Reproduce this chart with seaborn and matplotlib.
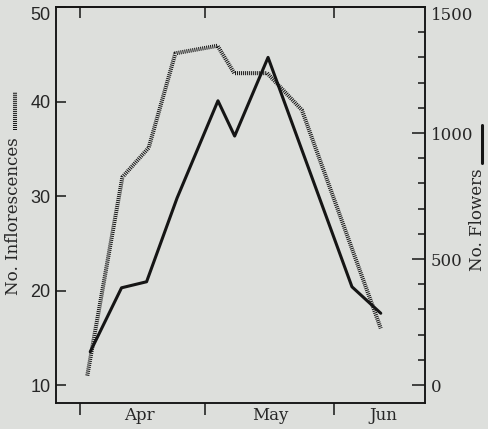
import matplotlib.pyplot as plt
import seaborn as sns
from matplotlib.lines import Line2D
from matplotlib.ticker import MultipleLocator

# dia do ano (1 abr = 91, 1 mai = 121, 1 jun = 152)
dias_inflor = [92.8, 101.2, 107.5, 113.9, 124.0, 128.0, 135.9, 144.2, 163.1]
inflorescencias = [11.0, 32.0, 35.1, 45.1, 45.9, 43.0, 43.0, 39.1, 16.0]

dias_flores = [93.5, 101.0, 107.0, 114.3, 124.1, 128.1, 136.1, 156.2, 163.1]
flores = [132, 386, 410, 742, 1128, 988, 1300, 390, 285]

inicio_mes = [91, 121, 152]
meses = ['Apr', 'May', 'Jun']
pos_meses = [105.3, 136.6, 163.6]

fundo = '#dddfdc'
preto = '#151515'
pontilhado = (0, (0.25, 0.25))

sns.set_style('ticks')
plt.rcParams['font.family'] = ['DejaVu Serif']
plt.rcParams['axes.edgecolor'] = preto
plt.rcParams['axes.linewidth'] = 1.1

fig = plt.figure(figsize=(4.88, 4.29), dpi=100, facecolor=fundo)
ax = fig.add_axes([56/488, 26/429, 369/488, 396/429], facecolor=fundo)
ax2 = ax.twinx()

sns.lineplot(x=dias_inflor, y=inflorescencias, ax=ax, color=preto, lw=2.9,
             linestyle=pontilhado, sort=False)
sns.lineplot(x=dias_flores, y=flores, ax=ax2, color=preto, lw=2.2, sort=False)

ax.set_xlim(85.3, 173.7)
ax.set_ylim(8.1, 49.8)
ax2.set_ylim(-71, 1500)

# eixo x: meses
ax.set_xticks(inicio_mes)
ax.set_xticklabels([])
ax.set_xticks(pos_meses, minor=True)
ax.set_xticklabels(meses, minor=True, fontsize=12)
ax.tick_params(axis='x', which='major', direction='out', length=8.5, width=1.1, color=preto)
ax.tick_params(axis='x', which='minor', length=0, pad=3)

topo = ax.secondary_xaxis('top')
topo.set_xticks(inicio_mes)
topo.tick_params(direction='in', length=8, width=1.1, labeltop=False, color=preto)

# eixo y esquerdo
ax.set_yticks([10, 20, 30, 40, 50])
ax.tick_params(axis='y', direction='in', length=7, width=1.1, pad=4, color=preto)
for t in ax.get_yticklabels():
    t.set_family('Liberation Sans')
    t.set_fontsize(13)
ax.get_yticklabels()[-1].set_va('top')
ax.set_ylabel('')

# eixo y direito
ax2.set_yticks([0, 500, 1000, 1500])
ax2.yaxis.set_minor_locator(MultipleLocator(100))
ax2.tick_params(axis='y', which='major', direction='in', length=9.5, width=1.1, pad=4, color=preto)
ax2.tick_params(axis='y', which='minor', direction='in', length=5, width=1.1, color=preto)
for t in ax2.get_yticklabels():
    t.set_fontsize(12)
ax2.get_yticklabels()[-1].set_va('top')
ax2.set_ylabel('')

# rótulos dos eixos com a amostra da linha
fig.text(13.5/488, 1 - 216/429, 'No. Inflorescences', rotation=90,
         ha='center', va='center', fontsize=12)
fig.add_artist(Line2D([15/488, 15/488], [1 - 130/429, 1 - 92/429],
                      transform=fig.transFigure, color=preto, lw=2.9, linestyle=pontilhado))
fig.text(478/488, 1 - 220/429, 'No. Flowers', rotation=90,
         ha='center', va='center', fontsize=12)
fig.add_artist(Line2D([482/488, 482/488], [1 - 163/429, 1 - 125/429],
                      transform=fig.transFigure, color=preto, lw=2.2))

fig.savefig('out.png', dpi=100, facecolor=fundo)
